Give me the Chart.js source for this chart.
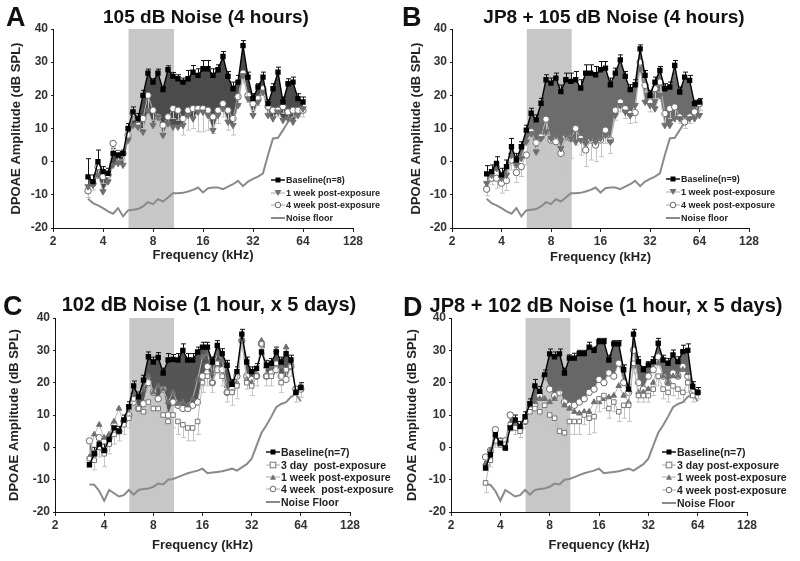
<!DOCTYPE html>
<html>
<head>
<meta charset="utf-8">
<script src="https://cdn.jsdelivr.net/npm/chart.js@4.4.1/dist/chart.umd.min.js"></script>
<style>
  body { margin: 0; background: #fff; font-family: Arial, "Liberation Sans", sans-serif; }
  #fig { position: relative; width: 800px; height: 561px; overflow: hidden; background: #fff; }
  #fig canvas { position: absolute; }
  .letter { position: absolute; font-weight: bold; font-size: 27px; line-height: 1; color: #111; }
  .title { position: absolute; font-weight: bold; line-height: 1; white-space: nowrap; transform: translateX(-50%); color: #111; }
  .legend { position: absolute; font-weight: bold; color: #222; }
  .legend div { display: flex; align-items: center; white-space: pre; }
  .legend svg { flex: none; margin-right: 1px; }
</style>
</head>
<body>
<div id="fig"></div>
<script>
// ===== Data =====
// f2 frequencies (kHz), 1/10 octave steps
const freqs = [3.25, 3.48, 3.73, 4.0, 4.29, 4.6, 4.93, 5.28, 5.66, 6.06, 6.5, 6.96, 7.46, 8.0, 8.57,
  9.19, 9.85, 10.56, 11.31, 12.13, 13.0, 13.93, 14.93, 16.0, 17.15, 18.38, 19.7, 21.11, 22.63,
  24.25, 25.99, 27.86, 29.86, 32.0, 34.3, 36.76, 39.4, 42.22, 45.25, 48.5, 51.98, 55.72, 59.71, 64.0];
const xTicks = [2, 4, 8, 16, 32, 64, 128];
const exposureBand = [5.7, 10.7];   // kHz, grey band

const noiseAB = [-11.2, -12.5, -13.2, -14, -15, -15.7, -14, -16.5, -14.7, -14.5, -14.3, -13.5, -12.2, -12.8, -11.3,
  -12, -10.8, -9.5, -9.5, -9.4, -9, -8.5, -7.8, -9.3, -8, -7.8, -7.8, -8.3, -7.5, -6.8, -5.8, -7.4, -6, -5.2,
  -4.5, -3.5, 2, 7, 7.2, 9.5, 12, 13.5, 14.5, 15.5];
const noiseCD = [-11.5, -11.6, -13.5, -16.5, -13.2, -14.2, -15.2, -14.8, -13.2, -14.6, -13.2, -12.9, -12.7, -12.2,
  -11.2, -11.5, -10, -9.8, -9.2, -8.6, -8, -7.6, -7.2, -6.6, -8, -7.8, -7.6, -7.4, -7, -6.6, -7.2, -6.2, -5.2,
  -3.5, 0.5, 4.5, 6.8, 9.5, 12.4, 13.4, 14, 15.6, 16.5, 14.2];

// A: 105 dB noise
const baseA = [-4.6, -6, 0, -3, -3.5, 2.5, 2, 2.5, 10, 15, 13, 20, 26.7, 24, 26.7, 21.7, 27.7, 25.7, 25, 24, 25,
  27, 26, 28, 28, 26, 27.7, 31.7, 25.7, 22, 24, 35, 25.5, 19, 22.5, 25.5, 17.5, 22, 27, 18, 23.5, 24, 19, 18];
const weekA = [-7.5, -7, -4, -9, -6, -1, -0.5, -1, 6.5, 11, 10.5, 9, 15.5, 11, 13.5, 8, 11.5, 10.5, 10.5, 11, 14,
  13, 15, 15, 14, 9.5, 14, 16, 12, 11, 17, 26, 19, 14, 18, 21, 14, 13, 15, 12.5, 13, 12, 14, 16];
const month1A = [-8.8, -6.6, -1.5, -4.5, -4, 5.5, 2.5, 2.5, 8, 14.6, 11, 13, 20, 15.5, 13.5, 11, 13.5, 16, 15.5,
  13, 15.5, 16, 16, 16, 15.5, 13.5, 15.5, 17.5, 15.5, 13, 19.6, 26.7, 20, 17.5, 19, 22, 16.6, 15.5, 15.5, 16.6,
  15, 15.5, 15.5, 15.5];
const baseErrA = [5.5, 2, 3.5, 1.5, 1.5, 1.5, 1, 1, 1.5, 1.5, 1.5, 1.5, 1.2, 1, 1.2, 1, 1.2, 1.2, 1.2, 1.2, 2.5,
  2, 2, 2.5, 2.5, 2, 1.5, 1.5, 1.5, 2, 2, 1.5, 1.5, 1.5, 1, 1.5, 1.2, 1.5, 1.5, 1.5, 1.5, 1.5, 1.5, 1.5];
const postErrA = [2, 2, 2, 2, 2, 2, 2, 2, 2, 2, 3, 3, 4, 3, 3, 3, 3, 3, 3, 5, 6, 6, 7, 7, 6, 5, 4, 4, 6, 5, 3, 3,
  2, 2, 2, 2, 2, 2, 2, 2, 2, 2, 2, 2];

// B: JP8 + 105 dB noise
const baseB = [-3.7, -3, -0.5, -4, -1.5, 4.5, 0.5, 4.5, 9.5, 14.6, 12.6, 17.6, 24.7, 23.7, 25.2, 21.1, 24.7, 24.2,
  24.7, 22.2, 26.7, 26.7, 26.2, 27.7, 28.2, 23.2, 26.7, 30.7, 25.7, 21.7, 23.2, 34, 26, 20, 24, 27.5, 22, 22.5,
  29, 21, 25.5, 24.5, 17.5, 18];
const weekB = [-6.5, -4, -2, -5, -4, 2, -1, 1, 6, 8.5, 3, 7, 9, 7, 8, 4, 8, 7, 6, 6.5, 5.5, 7, 6, 7, 8, 6, 14, 17,
  15, 14, 17, 28, 18, 17, 16, 20, 11, 11, 13, 13, 14, 13, 13, 14];
const month1B = [-8.3, -5, -5, -6.5, -5.7, 0.5, -3.3, -1.5, 2, 9, 5.7, 7.5, 12.8, 6.5, 6, 2.5, 7.5, 7, 10, 7, 3.5,
  6.5, 5, 6.5, 9.5, 6.5, 15.5, 18, 16, 14.5, 14.8, 30, 23, 18, 22, 24, 14.5, 16, 16.5, 13.5, 12, 13.5, 15, 17.5];
const baseErrB = [2.5, 2, 2, 2, 2, 2.5, 2, 1.5, 1.5, 1.5, 1.5, 1.5, 1.5, 1.5, 1.5, 2, 2, 2.5, 2.5, 2.5, 2.5, 2.5,
  2.5, 2.5, 2, 2, 1.5, 1.5, 1.5, 1.5, 1.5, 1.2, 1.5, 1.5, 1.5, 1.2, 1.5, 1.5, 1.5, 1.5, 1.5, 1.5, 1, 1];
const postErrB = [2, 2, 3, 3, 3, 3, 3, 3, 3, 3, 4, 5, 4, 5, 5, 5, 5, 6, 5, 5, 5, 6, 5, 5, 4, 4, 3, 3, 3, 3, 3, 2,
  2, 3, 3, 3, 3, 3, 3, 2, 2, 2, 2, 2];

// C: 102 dB noise, 1 h x 5 days
const baseC = [-5.4, -2, 1, -1, 2.5, 6, 5, 8.5, 12.6, 19, 15.6, 20.8, 28, 26.4, 27.8, 23, 27, 27.2, 27, 30, 27,
  27, 29.5, 31, 31, 26.4, 31.5, 29, 25.4, 19.5, 23.4, 35, 26.4, 23.4, 24.4, 29.5, 25.4, 26, 29.5, 26.4, 29, 27,
  17, 18.5];
const day3C = [-3.5, -4, 0, -2, 1, 4, 5, 7, 9, 15, 12, 11, 14, 12, 12, 10, 8, 10, 8, 7, 6, 6, 8, 20, 22, 20, 26,
  22, 17, 17, 19, 33, 20, 19, 22, 32, 22, 22, 26, 20, 24, 25, 17, 18.5];
const weekC = [-3, 4, 7, 3, 4, 8, 12, 7, 12, 17, 16, 18, 22, 17, 19, 18, 14, 17, 13.5, 14, 13, 15, 21, 28, 29, 23,
  29, 27, 19, 17, 20, 33, 21, 20, 23, 33, 25, 25, 30, 25, 31, 26, 17, 19];
const month1C = [2, -2, 3, -1, 3, 7, 5, 8, 10, 14, 12, 13.5, 20, 17, 15, 18, 10, 14, 13, 12, 12, 13, 14, 22, 25,
  20, 24, 24, 17, 18, 22, 33, 22, 21, 22, 32, 22, 23, 24, 22, 21, 25, 18, 18];
const baseErrC = [2, 2, 2, 2, 1.5, 1.5, 1.5, 1.5, 1.5, 1.5, 1.5, 1.5, 1.5, 1.5, 1.5, 1.5, 2, 1.5, 2, 2, 2, 2, 1.5,
  1.5, 1.5, 1.5, 1.5, 1.5, 1.5, 1.5, 1.5, 1.5, 1.5, 1.5, 1.5, 1.5, 1.5, 1.5, 1.5, 1.5, 1.5, 1.5, 1.5, 1.5];
const postErrC = [2.5, 3, 3, 4, 3, 3, 3, 3, 3, 3, 3, 3, 3, 3, 3, 3, 9, 4, 4, 4, 4, 4, 4, 3, 3, 3, 3, 3, 3, 4, 4, 2,
  2, 3, 3, 3, 3, 3, 3, 3, 3, 3, 3, 3];

// D: JP8 + 102 dB noise, 1 h x 5 days
const baseD = [-6.4, -2.3, 3.9, 1.3, -0.2, 6, 8.5, 6.5, 9.5, 13.5, 19, 17.3, 22.4, 28.9, 28, 28.9, 23, 27.6, 27.6,
  29, 29, 31, 30, 32.7, 32.7, 27, 32, 32, 24, 18, 35, 26.5, 24, 25.5, 26.5, 32.2, 27, 26, 28.6, 26.5, 29.6, 30,
  18.8, 17];
const day3D = [-11, -4, 2, 2, 1, 7, 6, 5, 8, 11, 12, 11, 13, 10, 9, 5, 4.5, 8, 8, 8, 10, 9, 9.5, 15, 16, 12, 14,
  11, 13, 13, 26, 16, 16, 16, 18, 22, 18, 17, 19, 18, 17, 20, 16, 17];
const weekD = [-5, -1, 2, 2, 0, 7, 7, 6, 9, 13, 14, 15, 15, 14, 15, 18, 13, 12, 11, 10.5, 11, 11, 14, 14, 15, 15.5,
  16, 19, 16, 14, 25, 17, 17, 18, 20, 26, 22, 20, 22, 22, 24, 23, 16, 17];
const month1D = [-3, -1, 5.5, 1, 2, 10, 7, 6, 8, 12, 13, 16, 22, 18, 16, 17, 14, 13, 13, 14, 15, 17, 18, 21, 20,
  23, 22, 26, 20, 17, 30, 20, 18, 22, 24, 28, 22, 20, 23, 22, 25, 22, 17, 17];
const baseErrD = [2, 2, 2, 1.5, 1.5, 1.5, 1.5, 1.5, 1.5, 1.5, 2, 1.5, 1.5, 1.5, 1.5, 1.5, 1.5, 1, 1.5, 1, 1, 1.5,
  1, 1, 1, 1.5, 1, 1, 1.5, 1.5, 1.5, 1.5, 1, 1, 1.5, 1.5, 1.5, 1.5, 1.5, 1.5, 2, 2, 1.5, 1.5];
const postErrD = [3, 2, 2, 2, 2, 2, 2, 2, 2, 2, 3, 3, 3, 3, 4, 4, 4, 4, 4, 4, 3, 5, 5, 4, 4, 3, 3, 3, 4, 5, 3, 2,
  2, 2, 2, 3, 3, 3, 3, 3, 3, 3, 2, 2];

// ===== Styles =====
const FONT = 'Arial, "Liberation Sans", sans-serif';
const POST_LINE = '#b8b8b8';

const styles = {
  base:    { pointStyle: 'rect', pointRadius: 2.8, pointBackgroundColor: '#000', pointBorderColor: '#000', borderColor: '#000', borderWidth: 1.4 },
  triDown: { pointStyle: 'triangle', rotation: 180, pointRadius: 3.6, pointBackgroundColor: '#6f6f6f', pointBorderColor: '#6f6f6f', borderColor: POST_LINE, borderWidth: 1 },
  triUp:   { pointStyle: 'triangle', pointRadius: 3.2, pointBackgroundColor: '#707070', pointBorderColor: '#707070', borderColor: POST_LINE, borderWidth: 1 },
  circ:    { pointStyle: 'circle', pointRadius: 3.2, pointBackgroundColor: '#fff', pointBorderColor: '#666', pointBorderWidth: 1, borderColor: POST_LINE, borderWidth: 1 },
  sq:      { pointStyle: 'rect', pointRadius: 3.2, pointBackgroundColor: '#fff', pointBorderColor: '#777', pointBorderWidth: 1, borderColor: POST_LINE, borderWidth: 1 },
  noise:   { pointRadius: 0, borderColor: '#8a8a8a', borderWidth: 2 }
};

// ===== Panels =====
const panels = [
  {
    letter: 'A', title: '105 dB Noise (4 hours)', titleSize: 19,
    left: 0, top: 0, area: { l: 53, r: 353, t: 29, b: 228 }, yTitlePad: 9, xTitlePad: 17,
    titleX: 206, titleTop: 6.5, letterX: 6, letterTop: 4,
    fillColor: '#4b4b4b', fillTarget: 1,
    series: [
      ['Baseline(n=8)', baseA, 'base', baseErrA],
      ['1 week post-exposure', weekA, 'triDown'],
      ['4 week post-exposure', month1A, 'circ', postErrA],
      ['Noise floor', noiseAB, 'noise']
    ],
    legend: { x: 271, y: 173.5, row: 12.7, size: 9 }
  },
  {
    letter: 'B', title: 'JP8 + 105 dB Noise (4 hours)', titleSize: 19,
    left: 400, top: 0, area: { l: 52, r: 349, t: 29, b: 228 }, yTitlePad: 9, xTitlePad: 15,
    titleX: 614, titleTop: 6.5, letterX: 402, letterTop: 4,
    fillColor: '#6c6c6c', fillTarget: 1,
    series: [
      ['Baseline(n=9)', baseB, 'base', baseErrB],
      ['1 week post-exposure', weekB, 'triDown'],
      ['4 week post-exposure', month1B, 'circ', postErrB],
      ['Noise floor', noiseAB, 'noise']
    ],
    legend: { x: 666, y: 173, row: 12.8, size: 9 }
  },
  {
    letter: 'C', title: '102 dB Noise (1 hour, x 5 days)', titleSize: 20,
    left: 0, top: 280, area: { l: 55, r: 350, t: 38, b: 232 }, yTitlePad: 7, xTitlePad: 7,
    titleX: 209, titleTop: 294, letterX: 3, letterTop: 293,
    fillColor: '#555555', fillTarget: 3,
    series: [
      ['Baseline(n=7)', baseC, 'base', baseErrC],
      ['3 day  post-exposure', day3C, 'sq', postErrC],
      ['1 week post-exposure', weekC, 'triUp'],
      ['4 week  post-exposure', month1C, 'circ'],
      ['Noise Floor', noiseCD, 'noise']
    ],
    legend: { x: 266, y: 446, row: 12.4, size: 10.5 }
  },
  {
    letter: 'D', title: 'JP8 + 102 dB Noise (1 hour, x 5 days)', titleSize: 20,
    left: 400, top: 280, area: { l: 51, r: 347, t: 38, b: 232 }, yTitlePad: 5, xTitlePad: 7,
    titleX: 606, titleTop: 295, letterX: 403, letterTop: 294,
    fillColor: '#676767', fillTarget: 3,
    series: [
      ['Baseline(n=7)', baseD, 'base', baseErrD],
      ['3 day post-exposure', day3D, 'sq', postErrD],
      ['1 week post-exposure', weekD, 'triUp'],
      ['4 week post-exposure', month1D, 'circ'],
      ['Noise Floor', noiseCD, 'noise']
    ],
    legend: { x: 662, y: 446, row: 12.6, size: 10.5 }
  }
];

// ===== Plugins =====
// grey exposure band behind everything
const bandPlugin = {
  id: 'band',
  beforeDraw(chart) {
    const { ctx, chartArea: a, scales: { x } } = chart;
    const x0 = x.getPixelForValue(exposureBand[0]);
    const x1 = x.getPixelForValue(exposureBand[1]);
    ctx.save();
    ctx.fillStyle = '#c7c7c7';
    ctx.fillRect(x0, a.top, x1 - x0, a.bottom - a.top);
    ctx.restore();
  }
};

// error bars: baseline up (black), post-exposure down (light grey)
const errorBarPlugin = {
  id: 'errorBars',
  beforeDatasetsDraw(chart) {
    const { ctx, scales: { y } } = chart;
    ctx.save();
    chart.data.datasets.forEach((ds, i) => {
      if (!ds.err) return;
      const meta = chart.getDatasetMeta(i);
      ctx.strokeStyle = ds.errColor;
      ctx.lineWidth = 1;
      meta.data.forEach((pt, j) => {
        const v = ds.data[j].y;
        const yEnd = y.getPixelForValue(v + ds.errDir * ds.err[j]);
        const px = Math.round(pt.x) + 0.5;
        ctx.beginPath();
        ctx.moveTo(px, pt.y);
        ctx.lineTo(px, yEnd);
        ctx.moveTo(px - 2.5, yEnd);
        ctx.lineTo(px + 2.5, yEnd);
        ctx.stroke();
      });
    });
    ctx.restore();
  }
};

// ===== Build =====
const fig = document.getElementById('fig');

function points(vals) {
  return freqs.map((f, i) => ({ x: f, y: vals[i] }));
}

function makeDataset(s, idx, p) {
  const [label, vals, kind, err] = s;
  const ds = Object.assign({
    label: label,
    data: points(vals),
    tension: 0,
    fill: false,
    pointHoverRadius: 3
  }, styles[kind]);
  if (idx === 0) {
    ds.fill = { target: p.fillTarget };
    ds.backgroundColor = p.fillColor;
  }
  if (err) {
    ds.err = err;
    ds.errDir = idx === 0 ? 1 : -1;
    ds.errColor = idx === 0 ? '#111' : '#c4c4c4';
  }
  return ds;
}

function legendSymbol(kind) {
  const line = (c, w) => `<line x1="0" y1="5" x2="14" y2="5" stroke="${c}" stroke-width="${w}"/>`;
  switch (kind) {
    case 'base':    return line('#000', 1.4) + '<rect x="4.5" y="2.5" width="5" height="5" fill="#000"/>';
    case 'triDown': return line('#aaa', 1) + '<polygon points="3.5,2 10.5,2 7,8" fill="#6f6f6f"/>';
    case 'triUp':   return line('#aaa', 1) + '<polygon points="4,7.8 10,7.8 7,2.3" fill="#707070"/>';
    case 'circ':    return line('#aaa', 1) + '<circle cx="7" cy="5" r="2.8" fill="#fff" stroke="#666"/>';
    case 'sq':      return line('#aaa', 1) + '<rect x="4.2" y="2.2" width="5.6" height="5.6" fill="#fff" stroke="#777"/>';
    default:        return line('#8a8a8a', 2);
  }
}

panels.forEach(p => {
  const W = 400, H = 280;
  const canvas = document.createElement('canvas');
  canvas.width = W; canvas.height = H;
  canvas.style.left = p.left + 'px';
  canvas.style.top = p.top + 'px';
  fig.appendChild(canvas);

  const tickFont = { family: FONT, size: 12, weight: 'bold' };
  const titleFont = { family: FONT, size: 13, weight: 'bold' };

  new Chart(canvas, {
    type: 'line',
    data: { datasets: p.series.map((s, i) => makeDataset(s, i, p)) },
    options: {
      responsive: false,
      animation: false,
      events: [],
      layout: { padding: { left: 0, top: p.area.t, right: W - p.area.r, bottom: 0 } },
      plugins: {
        legend: { display: false },
        tooltip: { enabled: false },
        filler: { drawTime: 'beforeDatasetsDraw' }
      },
      scales: {
        x: {
          type: 'logarithmic',
          min: 2, max: 128,
          afterBuildTicks: axis => { axis.ticks = xTicks.map(v => ({ value: v })); },
          afterFit: s => { s.height = H - p.area.b; },
          ticks: { autoSkip: false, maxRotation: 0, color: '#333', font: tickFont, padding: 2, callback: v => String(v) },
          grid: { display: true, drawOnChartArea: false, drawTicks: true, tickLength: 4, color: '#222' },
          border: { display: true, color: '#111', width: 1 },
          title: { display: true, text: 'Frequency (kHz)', color: '#222', font: titleFont, padding: { top: 0, bottom: p.xTitlePad } }
        },
        y: {
          min: -20, max: 40,
          afterFit: s => { s.width = p.area.l; },
          ticks: { stepSize: 10, color: '#333', font: tickFont, padding: 3 },
          grid: { display: true, drawOnChartArea: false, drawTicks: true, tickLength: 2, color: '#222' },
          border: { display: true, color: '#111', width: 1 },
          title: { display: true, text: 'DPOAE Amplitude (dB SPL)', color: '#222', font: titleFont, padding: { top: p.yTitlePad, bottom: 0 } }
        }
      }
    },
    plugins: [bandPlugin, errorBarPlugin]
  });

  // panel letter + title
  const letter = document.createElement('div');
  letter.className = 'letter';
  letter.textContent = p.letter;
  letter.style.left = p.letterX + 'px';
  letter.style.top = p.letterTop + 'px';
  fig.appendChild(letter);

  const title = document.createElement('div');
  title.className = 'title';
  title.textContent = p.title;
  title.style.fontSize = p.titleSize + 'px';
  title.style.left = p.titleX + 'px';
  title.style.top = p.titleTop + 'px';
  fig.appendChild(title);

  // legend inside the plot, lower right
  const lg = document.createElement('div');
  lg.className = 'legend';
  lg.style.left = p.legend.x + 'px';
  lg.style.top = p.legend.y + 'px';
  lg.style.fontSize = p.legend.size + 'px';
  lg.innerHTML = p.series.map(s =>
    `<div style="height:${p.legend.row}px"><svg width="14" height="10">${legendSymbol(s[2])}</svg>${s[0]}</div>`
  ).join('');
  fig.appendChild(lg);
});
</script>
</body>
</html>
